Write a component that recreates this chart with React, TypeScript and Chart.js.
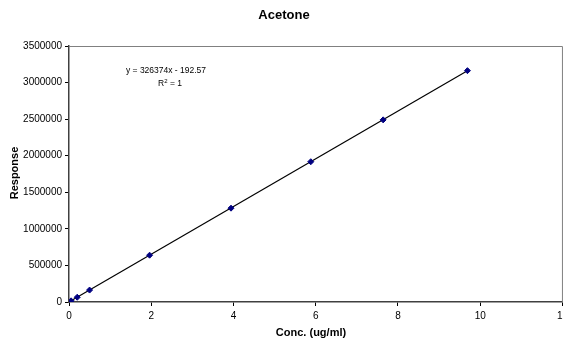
import React, { useEffect, useRef } from "react";
import { Chart, registerables } from "chart.js";

Chart.register(...registerables);

const chartTitle = "Acetone";
const xAxisTitle = "Conc. (ug/ml)";
const yAxisTitle = "Response";
const equationText = "y = 326374x - 192.57";

const concentrations = [0.05, 0.2, 0.5, 1.96, 3.94, 5.88, 7.64, 9.69];
const responses = [16000, 65000, 163000, 640000, 1283000, 1918000, 2490000, 3163000];

const trendSlope = 326374;
const trendIntercept = -192.57;

const xMin = 0;
const xMax = 12;
const xStep = 2;
const yMin = 0;
const yMax = 3500000;
const yStep = 500000;

const FONT = "'Liberation Sans', Arial, sans-serif";

const textPlugin = {
  id: "textPlugin",
  afterDraw(chart: any) {
    const ctx = chart.ctx;
    const a = chart.chartArea;
    ctx.save();
    // plot border top & right
    ctx.strokeStyle = "#808080";
    ctx.lineWidth = 1;
    ctx.beginPath();
    ctx.moveTo(a.left, a.top + 0.5);
    ctx.lineTo(a.right, a.top + 0.5);
    ctx.lineTo(a.right, a.bottom);
    ctx.stroke();

    ctx.fillStyle = "#000";
    ctx.textAlign = "center";
    ctx.textBaseline = "middle";
    ctx.font = `bold 13px ${FONT}`;
    ctx.fillText(chartTitle, 284, 15);

    ctx.font = `bold 11px ${FONT}`;
    ctx.fillText(xAxisTitle, 311, 333);

    ctx.save();
    ctx.translate(15, 173);
    ctx.rotate(-Math.PI / 2);
    ctx.fillText(yAxisTitle, 0, 0);
    ctx.restore();

    // equation
    ctx.font = `8.5px ${FONT}`;
    ctx.fillText(equationText, 166, 71);
    const r1 = "R";
    const r2 = " = 1";
    ctx.textAlign = "left";
    const w1 = ctx.measureText(r1).width;
    const w2 = ctx.measureText(r2).width;
    ctx.font = `6px ${FONT}`;
    const ws = ctx.measureText("2").width;
    const total = w1 + ws + w2;
    let x = 170 - total / 2;
    ctx.font = `8.5px ${FONT}`;
    ctx.fillText(r1, x, 84);
    x += w1;
    ctx.font = `6px ${FONT}`;
    ctx.fillText("2", x, 81);
    x += ws;
    ctx.font = `8.5px ${FONT}`;
    ctx.fillText(r2, x, 84);
    ctx.restore();
  },
};

export default function App() {
  const canvasRef = useRef<HTMLCanvasElement | null>(null);

  useEffect(() => {
    document.body.style.margin = "0";
    const canvas = canvasRef.current;
    if (!canvas) return;
    const xFirst = Math.min(...concentrations);
    const xLast = Math.max(...concentrations);
    const trend = [
      { x: xFirst, y: trendSlope * xFirst + trendIntercept },
      { x: xLast, y: trendSlope * xLast + trendIntercept },
    ];
    const points = concentrations.map((c, i) => ({ x: c, y: responses[i] }));

    const chart = new Chart(canvas, {
      type: "scatter",
      data: {
        datasets: [
          {
            type: "line",
            data: trend,
            borderColor: "#000",
            borderWidth: 1.2,
            pointRadius: 0,
            fill: false,
            order: 2,
          } as any,
          {
            data: points,
            pointStyle: "rectRot",
            pointRadius: 3,
            backgroundColor: "#000080",
            borderColor: "#000080",
            borderWidth: 1,
            order: 1,
          },
        ],
      },
      options: {
        animation: false,
        responsive: false,
        devicePixelRatio: 1,
        layout: { padding: { left: 0, top: 46, right: 0, bottom: 0 } },
        plugins: {
          legend: { display: false },
          title: { display: false },
          tooltip: { enabled: false },
        },
        scales: {
          x: {
            type: "linear",
            min: xMin,
            max: xMax,
            ticks: {
              stepSize: xStep,
              color: "#000",
              font: { family: FONT, size: 10 },
              padding: 4,
              maxRotation: 0,
              callback: (v: any) => String(v),
            },
            grid: {
              drawOnChartArea: false,
              drawTicks: true,
              tickLength: 4,
              color: "#000",
            },
            border: { color: "#404040", width: 1.5 },
            afterFit(scale: any) {
              scale.height = 39;
            },
          },
          y: {
            type: "linear",
            min: yMin,
            max: yMax,
            ticks: {
              stepSize: yStep,
              color: "#000",
              font: { family: FONT, size: 10 },
              padding: 3,
              callback: (v: any) => String(v),
            },
            grid: {
              drawOnChartArea: false,
              drawTicks: true,
              tickLength: 4,
              color: "#000",
            },
            border: { color: "#404040", width: 1.5 },
            afterFit(scale: any) {
              scale.width = 69;
            },
          },
        },
      },
      plugins: [textPlugin],
    });
    return () => chart.destroy();
  }, []);

  return (
    <div style={{ width: 563, height: 341, position: "relative", overflow: "hidden" }}>
      <canvas ref={canvasRef} width={572} height={341} style={{ display: "block" }} />
    </div>
  );
}
